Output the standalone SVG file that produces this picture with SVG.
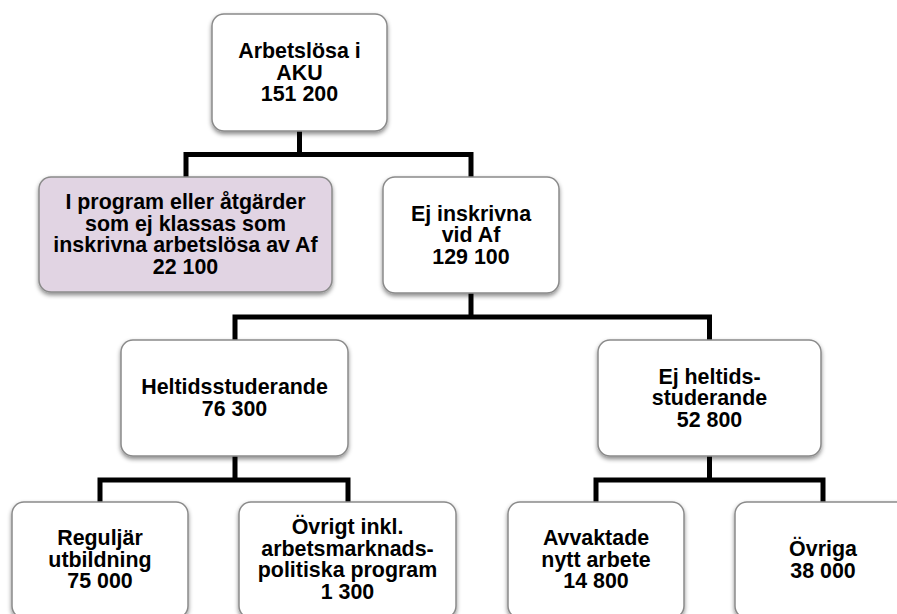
<svg xmlns="http://www.w3.org/2000/svg" width="897" height="614" viewBox="0 0 897 614">
<style>
.box{fill:#ffffff;stroke:#8a8a8a;stroke-width:1.5;filter:url(#sh)}
.purple{fill:#e1d4e3}
.t{font-family:"Liberation Sans",Arial,sans-serif;font-weight:bold;font-size:21.4px;fill:#000;text-anchor:middle}
.c{fill:none;stroke:#000;stroke-width:5;stroke-linejoin:miter;stroke-linecap:butt}
</style>
<defs>
<filter id="sh" x="-10%" y="-10%" width="120%" height="130%">
<feDropShadow dx="0" dy="2.5" stdDeviation="2" flood-color="#000" flood-opacity="0.45"/>
</filter>
</defs>
<rect width="897" height="614" fill="#fff"/>
<g id="connectors">
<path class="c" d="M299.5,131 V154.5 M186,177 V154.5 H471 V177"/>
<path class="c" d="M471,293 V317 M235,340 V317 H709.5 V340"/>
<path class="c" d="M235,456 V480 M100,502 V480 H348 V502"/>
<path class="c" d="M709.5,456 V480 M596,502 V480 H823 V502"/>
</g>
<g id="n-aku">
<rect class="box" x="212" y="14" width="175" height="117" rx="12"/>
<text class="t"><tspan x="299.5" y="58">Arbetslösa i</tspan><tspan x="299.5" y="79.5">AKU</tspan><tspan x="299.5" y="101">151 200</tspan></text>
</g>
<g id="n-program">
<rect class="box purple" x="39" y="177" width="293" height="115" rx="12"/>
<text class="t"><tspan x="185.5" y="209.2">I program eller åtgärder</tspan><tspan x="185.5" y="230.7">som ej klassas som</tspan><tspan x="185.5" y="252.2">inskrivna arbetslösa av Af</tspan><tspan x="185.5" y="273.7">22 100</tspan></text>
</g>
<g id="n-ejinskrivna">
<rect class="box" x="383" y="177" width="176" height="116" rx="12"/>
<text class="t"><tspan x="471" y="220.5">Ej inskrivna</tspan><tspan x="471" y="242">vid Af</tspan><tspan x="471" y="263.5">129 100</tspan></text>
</g>
<g id="n-heltid">
<rect class="box" x="121" y="340" width="227" height="116" rx="12"/>
<text class="t"><tspan x="234.5" y="394.2">Heltidsstuderande</tspan><tspan x="234.5" y="415.7">76 300</tspan></text>
</g>
<g id="n-ejheltid">
<rect class="box" x="598" y="340" width="223" height="116" rx="12"/>
<text class="t"><tspan x="709.5" y="383.5">Ej heltids-</tspan><tspan x="709.5" y="405">studerande</tspan><tspan x="709.5" y="426.5">52 800</tspan></text>
</g>
<g id="n-reguljar">
<rect class="box" x="12" y="502" width="176" height="116" rx="12"/>
<text class="t"><tspan x="100" y="545">Reguljär</tspan><tspan x="100" y="566.5">utbildning</tspan><tspan x="100" y="588">75 000</tspan></text>
</g>
<g id="n-ovrigt">
<rect class="box" x="239" y="502" width="217" height="116" rx="12"/>
<text class="t"><tspan x="347.5" y="534">Övrigt inkl.</tspan><tspan x="347.5" y="555.5">arbetsmarknads-</tspan><tspan x="347.5" y="577">politiska program</tspan><tspan x="347.5" y="598.5">1 300</tspan></text>
</g>
<g id="n-avvaktade">
<rect class="box" x="508" y="502" width="176" height="116" rx="12"/>
<text class="t"><tspan x="596" y="545">Avvaktade</tspan><tspan x="596" y="566.5">nytt arbete</tspan><tspan x="596" y="588">14 800</tspan></text>
</g>
<g id="n-ovriga">
<rect class="box" x="735" y="502" width="176" height="116" rx="12"/>
<text class="t"><tspan x="823" y="556">Övriga</tspan><tspan x="823" y="577.5">38 000</tspan></text>
</g>
</svg>
